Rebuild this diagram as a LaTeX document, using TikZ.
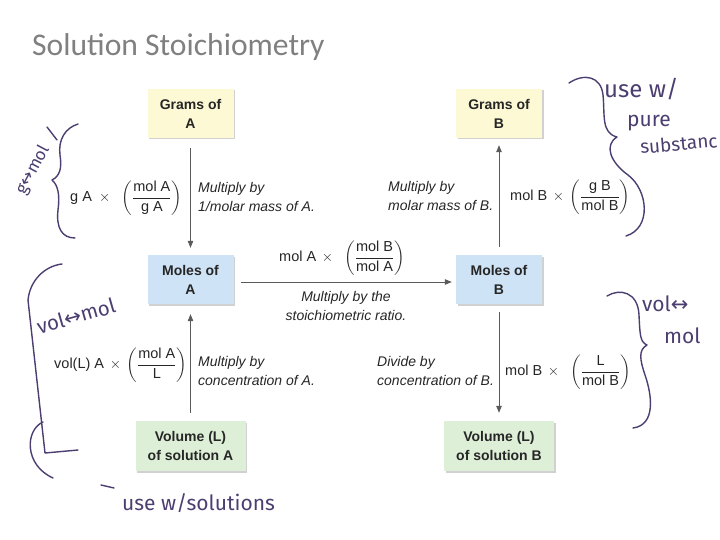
\documentclass[tikz,border=0pt]{standalone}
\usepackage{amsmath}
\usepackage{fontspec}
\setmainfont{Liberation Sans}
\newfontfamily\titlefont{Carlito}
\newfontfamily\handfont{Fira Sans}
\newfontfamily\symfont{DejaVu Sans}
\usetikzlibrary{shadows,arrows.meta}
\definecolor{boxyellow}{RGB}{252,249,212}
\definecolor{boxblue}{RGB}{207,227,246}
\definecolor{boxgreen}{RGB}{222,239,216}
\definecolor{hand}{RGB}{76,62,112}
\definecolor{titlegray}{RGB}{128,128,128}
\definecolor{arrowgray}{RGB}{90,90,90}
\tikzset{
  qbox/.style={minimum width=86pt, minimum height=49pt, inner sep=0pt, align=center,
    font=\fontsize{14}{19}\selectfont\bfseries, text=black!85,
    drop shadow={shadow xshift=1.5pt, shadow yshift=-1.5pt, fill=black, opacity=0.18}},
  vbox/.style={qbox, minimum width=110pt, minimum height=50pt},
  lab/.style={align=left, inner sep=0pt, font=\fontsize{14}{18.5}\selectfont\itshape, text=black!85},
  form/.style={inner sep=0pt, font=\fontsize{14.5}{17}\selectfont, text=black!85},
  arr/.style={draw=arrowgray, line width=0.8pt, -{Triangle[length=7pt,width=5.5pt]}},
  handline/.style={draw=hand, line width=1.4pt, line cap=round, line join=round},
  handtext/.style={text=hand, inner sep=0pt, font=\handfont\fontsize{21}{24}\selectfont}
}
\newcommand{\lr}{{\symfont ↔}}
\begin{document}
\begin{tikzpicture}[x=1pt,y=-1pt]
\useasboundingbox (0,0) rectangle (720,540);
% title
\node[anchor=west, inner sep=0pt, text=titlegray, font=\titlefont\fontsize{31.6}{36}\selectfont] (title) at (32,47) {Solution Stoichiometry};

% boxes
\node[qbox, fill=boxyellow] (ga) at (190.5,113.5) {Grams of\\A};
\node[qbox, fill=boxyellow] (gb) at (499,113.5) {Grams of\\B};
\node[qbox, fill=boxblue] (ma) at (190.5,279.5) {Moles of\\A};
\node[qbox, fill=boxblue] (mb) at (499,279.5) {Moles of\\B};
\node[vbox, fill=boxgreen] (va) at (190.5,446) {Volume (L)\\of solution A};
\node[vbox, fill=boxgreen] (vb) at (499,446) {Volume (L)\\of solution B};

% arrows
\draw[arr, shorten <=10pt, shorten >=7pt] (ga.south) -- (ma.north);
\draw[arr, shorten <=8pt, shorten >=10pt] (va.north) -- (ma.south);
\draw[arr, shorten <=8pt, shorten >=7pt] (mb.north) -- (gb.south);
\draw[arr, shorten <=8pt, shorten >=8pt] (mb.south) -- (vb.north);
\draw[arr, shorten <=7pt, shorten >=4pt] (ma.east |- 0,282) coordinate (hs) -- (mb.west |- 0,282);

% formulas
\node[form, anchor=west] (f1) at (70,198) {$\text{g A}\;\times\;\;\left(\dfrac{\text{mol A}}{\text{g A}}\right)$};
\node[form, anchor=west] (f2) at (510,197) {$\text{mol B}\,\times\,\left(\dfrac{\text{g B}}{\text{mol B}}\right)$};
\node[form, anchor=west] (f3) at (279,258) {$\text{mol A}\,\times\;\;\left(\dfrac{\text{mol B}}{\text{mol A}}\right)$};
\node[form, anchor=west] (f4) at (54,365) {$\text{vol(L) A}\,\times\,\left(\dfrac{\text{mol A}}{\text{L}}\right)$};
\node[form, anchor=west] (f5) at (505,372) {$\text{mol B}\,\times\;\;\left(\dfrac{\text{L}}{\text{mol B}}\right)$};

% labels
\node[lab, anchor=west] (l1) at (198,197) {Multiply by\\1/molar mass of A.};
\node[lab, anchor=west] (l2) at (388,196) {Multiply by\\molar mass of B.};
\node[lab, align=center] (l3) at (346,306) {Multiply by the\\stoichiometric ratio.};
\node[lab, anchor=west] (l4) at (198,371) {Multiply by\\concentration of A.};
\node[lab, anchor=west] (l5) at (377,371) {Divide by\\concentration of B.};

% handwriting: left top
\draw[handline] (78,124) .. controls (65,128) and (58,140) .. (60,155)
  .. controls (62,168) and (60,176) .. (52,180)
  .. controls (58,185) and (60,195) .. (58,210)
  .. controls (56,228) and (62,238) .. (75,238);
\draw[handline] (47,127) -- (57,140);
\node[handtext, rotate=62, font=\handfont\fontsize{17}{20}\selectfont] (h1) at (33,170) {g\lr mol};

% right top
\draw[handline] (569,83) .. controls (584,73) and (601,76) .. (603,95)
  .. controls (605,115) and (601,133) .. (617,137)
  .. controls (604,145) and (610,162) .. (628,175)
  .. controls (648,190) and (652,228) .. (626,236);
\node[handtext, anchor=west, font=\handfont\fontsize{24}{26}\selectfont] (h2) at (604,89) {use w/};
\node[handtext, anchor=west] (h3) at (627,123) {pure};
\node[handtext, anchor=west, rotate=5, font=\handfont\fontsize{19}{22}\selectfont] (h4) at (640,147) {substanc};

% right bottom
\draw[handline] (607,296) .. controls (620,288) and (638,292) .. (639,315)
  .. controls (640,335) and (640,342) .. (647,345)
  .. controls (638,350) and (640,360) .. (645,375)
  .. controls (652,395) and (656,425) .. (633,428);
\node[handtext, anchor=west] (h5) at (642,304) {vol\lr};
\node[handtext, anchor=west] (h6) at (664,336) {mol};

% left bottom
\draw[handline] (62,264) .. controls (45,266) and (30,280) .. (28,300)
  -- (45,453) -- (78,450);
\draw[handline] (43,422) .. controls (25,430) and (24,465) .. (53,478);
\draw[handline] (101,485) -- (114,488);
\node[handtext, rotate=16, font=\handfont\fontsize{20.5}{24}\selectfont] (h7) at (76,316) {vol\lr mol};
\node[handtext, anchor=west] (h8) at (122,503) {use w/solutions};
\end{tikzpicture}
\end{document}
